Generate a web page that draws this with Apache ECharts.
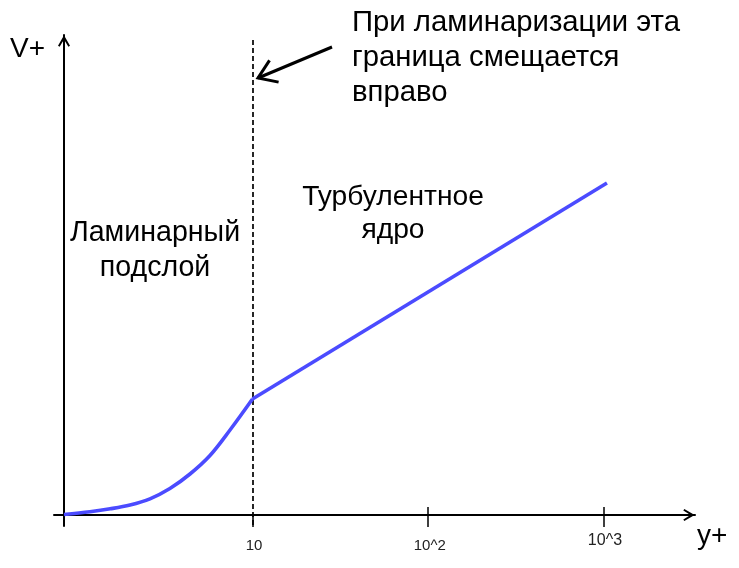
<!DOCTYPE html>
<html>
<head>
<meta charset="utf-8">
<script src="https://cdn.jsdelivr.net/npm/echarts@6/dist/echarts.min.js"></script>
<style>html,body{margin:0;padding:0;background:#fff}#c{width:739px;height:568px}</style>
</head>
<body>
<div id="c"></div>
<script>
// Laminar sublayer (y+ vs V+)
const laminarYPlus = [0.846, 1.19, 1.55, 2.01, 2.61, 3.39, 4.41, 5.73, 7.45, 10];
const laminarVPlus = [0.05, 0.33, 0.62, 1.0, 1.62, 2.65, 4.1, 5.95, 8.5, 11.6];
// Turbulent core (log law – straight line on log axis)
const turbulentYPlus = [10, 1040];
const turbulentVPlus = [11.6, 33.2];
// Tick labels
const tickYPlus = [10, 100, 1000];
const tickLabels = ['10', '10^2', '10^3'];
const boundaryYPlus = 10;

const lg = v => Math.log10(v);
const xMin = -0.1294, xMax = 3.518;
const yMin = -1.1, yMax = 48.0;
const tickPos = tickYPlus.map(lg);
const labelMap = {};
tickPos.forEach((p, i) => { labelMap[p.toFixed(4)] = tickLabels[i]; });

const chevron = 'path://M6,0 L12,10.4 L10.4,11.4 L6,4.2 L1.6,11.4 L0,10.4 Z';

const chart = echarts.init(document.getElementById('c'), null, {renderer: 'canvas'});
const font = '"Liberation Sans", Arial, sans-serif';

// annotation arrow geometry (pixels)
const aStart = [332, 47], aEnd = [258, 78];
const dx = aEnd[0] - aStart[0], dy = aEnd[1] - aStart[1];
const L = Math.hypot(dx, dy), ux = dx / L, uy = dy / L;
const headLen = 21, ang = 34 * Math.PI / 180;
function rot(x, y, a) { return [x * Math.cos(a) - y * Math.sin(a), x * Math.sin(a) + y * Math.cos(a)]; }
const b1 = rot(-ux, -uy, ang), b2 = rot(-ux, -uy, -ang);

chart.setOption({
  animation: false,
  grid: {left: 54, right: 44, top: 35, bottom: 42, containLabel: false},
  xAxis: [{
    type: 'value', min: xMin, max: xMax, position: 'bottom', offset: -11,
    axisLine: {show: true, onZero: false, symbol: ['none', chevron], symbolSize: [12, 12], symbolOffset: [0, -6],
      lineStyle: {color: '#000', width: 2}},
    axisTick: {show: true, customValues: tickPos, length: 12, inside: false, lineStyle: {color: '#000', width: 1.5}},
    axisLabel: {show: true, customValues: tickPos, margin: 18,
      formatter: v => {
        const t = labelMap[v.toFixed(4)] || '';
        return t === '10^3' ? '{hi|' + t + '}' : '{lo|' + t + '}';
      },
      rich: {
        lo: {fontSize: 15, fontFamily: font, color: '#222', padding: [5, 0, 0, 3]},
        hi: {fontSize: 16, fontFamily: font, color: '#222', padding: [0, 0, 0, 2]}
      }},
    splitLine: {show: false}
  }, {
    type: 'value', min: xMin, max: xMax, position: 'bottom', offset: -11,
    axisLine: {show: false, onZero: false},
    axisTick: {show: true, customValues: tickPos.slice(1), length: 8, inside: true, lineStyle: {color: '#000', width: 1.5}},
    axisLabel: {show: false},
    splitLine: {show: false}
  }],
  yAxis: {
    type: 'value', min: yMin, max: yMax, position: 'left', offset: -10,
    axisLine: {show: true, onZero: false, symbol: ['none', chevron], symbolSize: [12, 12], symbolOffset: [0, -6],
      lineStyle: {color: '#000', width: 2}},
    axisTick: {show: false}, axisLabel: {show: false}, splitLine: {show: false}
  },
  series: [{
    type: 'line', name: 'laminar', smooth: 0.35, showSymbol: false, symbol: 'none',
    data: laminarYPlus.map((x, i) => [lg(x), laminarVPlus[i]]),
    lineStyle: {color: '#4B4BFF', width: 3.6}, z: 5,
    markLine: {
      silent: true, symbol: ['none', 'none'], label: {show: false},
      lineStyle: {color: '#000', width: 1.7, type: [5, 3]},
      data: [[{coord: [lg(boundaryYPlus), 47.5]}, {coord: [lg(boundaryYPlus), yMin]}]]
    }
  }, {
    type: 'line', name: 'turbulent', showSymbol: false, symbol: 'none',
    data: turbulentYPlus.map((x, i) => [lg(x), turbulentVPlus[i]]),
    lineStyle: {color: '#4B4BFF', width: 3.6}, z: 5
  }],
  graphic: [
    {type: 'text', left: 10, top: 35, style: {text: 'V+', font: '28px ' + font, fill: '#000'}},
    {type: 'text', left: 697, top: 522, style: {text: 'y+', font: '28px ' + font, fill: '#000'}},
    {type: 'text', x: 352, y: 5, style: {text: 'При ламинаризации эта\nграница смещается\nвправо', font: '29.3px ' + font, fill: '#000', lineHeight: 35}},
    {type: 'text', x: 393, y: 181, style: {text: 'Турбулентное\nядро', font: '28.2px ' + font, fill: '#000', align: 'center', lineHeight: 33}},
    {type: 'text', x: 155, y: 216, style: {text: 'Ламинарный\nподслой', font: '28.6px ' + font, fill: '#000', align: 'center', lineHeight: 35}},
    {type: 'polyline', shape: {points: [aStart, aEnd]}, style: {stroke: '#000', lineWidth: 3, fill: null}},
    {type: 'polyline', shape: {points: [[aEnd[0] + b1[0] * headLen, aEnd[1] + b1[1] * headLen], aEnd, [aEnd[0] + b2[0] * headLen, aEnd[1] + b2[1] * headLen]]},
      style: {stroke: '#000', lineWidth: 3, fill: null, lineJoin: 'miter'}}
  ]
});
</script>
</body>
</html>
